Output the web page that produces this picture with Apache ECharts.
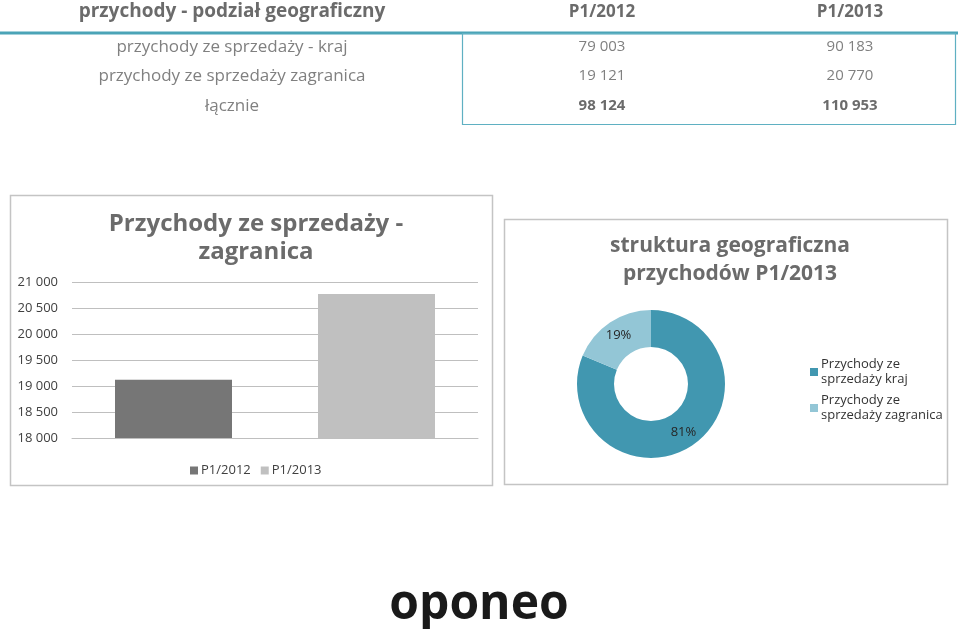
<!DOCTYPE html>
<html>
<head>
<meta charset="utf-8">
<script src="https://cdn.jsdelivr.net/npm/echarts@6/dist/echarts.min.js"></script>
<style>
html,body{margin:0;padding:0;background:#fff;}
#c{width:960px;height:629px;}
</style>
</head>
<body>
<div id="c"></div>
<script>
// ---- data ----
const tableTitle = 'przychody - podział geograficzny';
const periods = ['P1/2012', 'P1/2013'];
const rowLabels = ['przychody ze sprzedaży - kraj', 'przychody ze sprzedaży zagranica', 'łącznie'];
const salesDomestic = [79003, 90183];
const salesForeign = [19121, 20770];
const salesTotal = [98124, 110953];
const barTitle = 'Przychody ze sprzedaży -\nzagranica';
const pieTitle = 'struktura geograficzna\nprzychodów P1/2013';
const pieNames = ['Przychody ze sprzedaży kraj', 'Przychody ze sprzedaży zagranica'];
const yTicks = [18000, 18500, 19000, 19500, 20000, 20500, 21000];
const logoText = 'oponeo';

const FONT = '"Open Sans", "DejaVu Sans", sans-serif';
function fmt(n) { return String(n).replace(/\B(?=(\d{3})+(?!\d))/g, ' '); }

const chart = echarts.init(document.getElementById('c'), null, {renderer: 'canvas'});

// table graphics built from arrays
const graphics = [];
const colX = [602, 850];
const rowY = [47, 76, 106];
graphics.push({type: 'text', x: 232, y: 12, style: {text: tableTitle, font: 'bold 19px ' + FONT, fill: '#6b6b6b', align: 'center', verticalAlign: 'middle'}});
periods.forEach((p, i) => graphics.push({type: 'text', x: colX[i], y: 12, style: {text: p, font: 'bold 17px ' + FONT, fill: '#6b6b6b', align: 'center', verticalAlign: 'middle'}}));
graphics.push({type: 'line', shape: {x1: 0, y1: 33, x2: 958, y2: 33}, style: {stroke: '#4ba4b7', lineWidth: 3}});
graphics.push({type: 'rect', shape: {x: 462.5, y: 33.5, width: 493, height: 91}, style: {fill: 'none', stroke: '#5fb0c2', lineWidth: 1.2}});
const rows = [salesDomestic, salesForeign, salesTotal];
rowLabels.forEach((lab, r) => {
  graphics.push({type: 'text', x: 232, y: rowY[r], style: {text: lab, font: '17px ' + FONT, fill: '#808080', align: 'center', verticalAlign: 'middle'}});
  periods.forEach((p, i) => {
    const bold = r === 2;
    graphics.push({type: 'text', x: colX[i], y: rowY[r], style: {text: fmt(rows[r][i]), font: (bold ? 'bold ' : '') + '15px ' + FONT, fill: bold ? '#6b6b6b' : '#808080', align: 'center', verticalAlign: 'middle'}});
  });
});
// chart boxes
graphics.push({type: 'rect', shape: {x: 10.5, y: 195.5, width: 482, height: 290}, style: {fill: 'none', stroke: '#c4c4c4', lineWidth: 1.5}});
graphics.push({type: 'rect', shape: {x: 504.5, y: 219.5, width: 443, height: 265}, style: {fill: 'none', stroke: '#c4c4c4', lineWidth: 1.5}});
// logo
graphics.push({type: 'text', x: 479, y: 605, style: {text: logoText, font: 'bold 48px ' + FONT, fill: '#1a1a1a', align: 'center', verticalAlign: 'middle'}});

const option = {
  backgroundColor: '#fff',
  animation: false,
  textStyle: {fontFamily: FONT},
  title: [
    {text: barTitle, left: 251, top: 205, textAlign: 'center',
     textStyle: {fontSize: 24, fontWeight: 'bold', color: '#6b6b6b', lineHeight: 28, fontFamily: FONT}},
    {text: pieTitle, left: 725, top: 227, textAlign: 'center',
     textStyle: {fontSize: 21, fontWeight: 'bold', color: '#6b6b6b', lineHeight: 28, fontFamily: FONT}}
  ],
  legend: [
    {data: periods, left: 185, top: 459, itemWidth: 8, itemHeight: 8, itemGap: 10, icon: 'rect',
     textStyle: {fontSize: 13, color: '#404040', fontFamily: FONT, padding: [0, 0, 0, -2]}},
    {data: pieNames, left: 805, top: 352, orient: 'vertical', itemWidth: 8, itemHeight: 8, itemGap: 6, icon: 'rect',
     formatter: function (n) { return n.replace('Przychody ze ', 'Przychody ze\n'); },
     textStyle: {fontSize: 13, color: '#333', lineHeight: 15, fontFamily: FONT, padding: [0, 0, 0, -2]}}
  ],
  grid: {left: 72, top: 282, width: 406, height: 156, containLabel: false},
  xAxis: {type: 'category', data: periods, axisLine: {lineStyle: {color: '#bfbfbf'}}, axisTick: {show: false}, axisLabel: {show: false}},
  yAxis: {type: 'value', min: yTicks[0], max: yTicks[yTicks.length - 1], interval: 500,
    axisLine: {show: false}, axisTick: {show: false},
    splitLine: {lineStyle: {color: '#bfbfbf'}},
    axisLabel: {formatter: v => fmt(v), fontSize: 13, color: '#404040', margin: 14, fontFamily: FONT}},
  series: [
    {name: periods[0], type: 'bar', stack: 's', barWidth: 117, data: [salesForeign[0], '-'], itemStyle: {color: '#767676'}},
    {name: periods[1], type: 'bar', stack: 's', barWidth: 117, data: ['-', salesForeign[1]], itemStyle: {color: '#c0c0c0'}},
    {name: 'struktura', type: 'pie', center: [651, 384], radius: [37, 74], startAngle: 90, clockwise: true,
     data: [
       {name: pieNames[0], value: salesDomestic[1], itemStyle: {color: '#4197b0'}},
       {name: pieNames[1], value: salesForeign[1], itemStyle: {color: '#93c6d6'}}
     ],
     label: {position: 'inside', formatter: p => Math.round(p.percent) + '%', fontSize: 13, color: '#262626', fontFamily: FONT},
     labelLine: {show: false}, emphasis: {disabled: true}}
  ],
  graphic: graphics
};
chart.setOption(option);
</script>
</body>
</html>
